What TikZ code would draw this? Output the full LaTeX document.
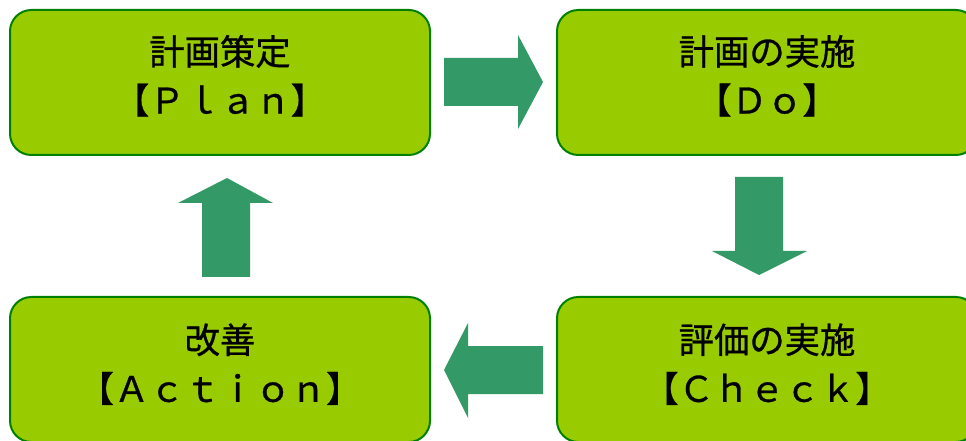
\documentclass[tikz,border=0pt]{standalone}
\usepackage{fontspec}
\newfontfamily\jpfont[FakeBold=0.8]{Noto Sans CJK JP}
\definecolor{boxfill}{HTML}{99CC00}
\definecolor{boxline}{HTML}{008000}
\definecolor{arrowfill}{HTML}{339966}
\tikzset{
  stagebox/.style={draw=boxline, line width=1.5pt, fill=boxfill, rounded corners=16pt,
    minimum width=315pt, minimum height=108.75pt, inner sep=0pt},
  stagetext/.style={align=center, font=\jpfont\fontsize{26.5}{36.5}\selectfont, inner sep=0pt},
  blockarrow/.style={fill=arrowfill, draw=none}
}
\begin{document}
\begin{tikzpicture}[x=0.75pt,y=-0.75pt]
\useasboundingbox (0,0) rectangle (966,441);
\clip (0,0) rectangle (966,441);
% boxes
\node[stagebox] (plan)   at (220,82.5) {};
\node[stagebox] (do)     at (767,82.5) {};
\node[stagebox] (check)  at (767,369.5) {};
\node[stagebox] (action) at (220,369.5) {};
% texts
\node[stagetext] (plant)   at ([yshift=5pt]plan.center)   {計画策定\\【Ｐｌａｎ】};
\node[stagetext] (dot)     at ([yshift=5pt]do.center)     {計画の実施\\【Ｄｏ】};
\node[stagetext] (checkt)  at ([yshift=4pt]check.center)  {評価の実施\\【Ｃｈｅｃｋ】};
\node[stagetext] (actiont) at ([yshift=4pt]action.center) {改善\\【Ａｃｔｉｏｎ】};
% block arrows
\fill[blockarrow] (444,58) -- (518,58) -- (518,35) -- (543,82) -- (518,129) -- (518,106) -- (444,106) -- cycle;
\fill[blockarrow] (735,177) -- (783,177) -- (783,251) -- (807,251) -- (759,275) -- (712,251) -- (735,251) -- cycle;
\fill[blockarrow] (543,346) -- (468,346) -- (468,323) -- (444,370) -- (468,418) -- (468,394) -- (543,394) -- cycle;
\fill[blockarrow] (202,277) -- (202,203) -- (178,203) -- (227,178) -- (273,203) -- (250,203) -- (250,277) -- cycle;
\end{tikzpicture}
\end{document}
